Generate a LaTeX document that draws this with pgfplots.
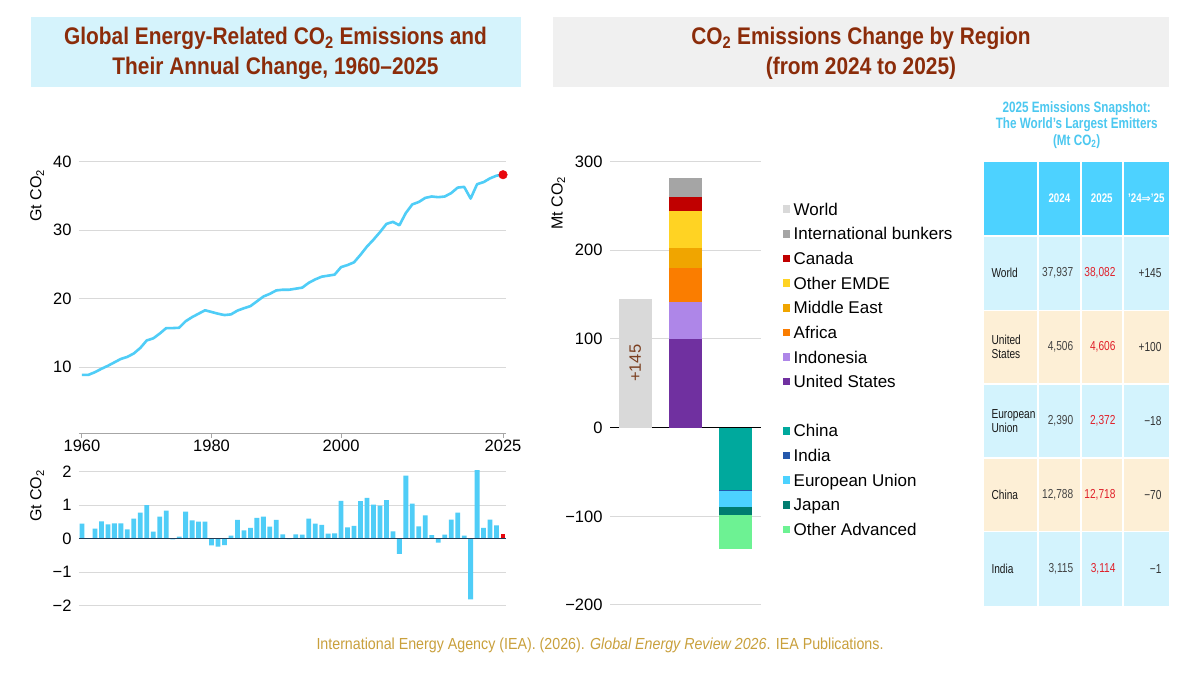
\documentclass[border=0pt]{standalone}
\usepackage{pgfplots}
\pgfplotsset{compat=1.18}
\usepackage{fontspec}
\setmainfont{Liberation Sans}
\newfontfamily\titlefam[FakeStretch=0.87]{Liberation Sans}
\newfontfamily\tablefam[FakeStretch=0.78]{Liberation Sans}
\newfontfamily\footfam[FakeStretch=0.89]{Liberation Sans}
\newfontfamily\dejavu{DejaVu Sans}

\definecolor{titlecyan}{HTML}{D5F3FC}
\definecolor{titlegray}{HTML}{F0F0F0}
\definecolor{titlered}{HTML}{8B2C0A}
\definecolor{linecyan}{HTML}{4FCDF7}
\definecolor{dotred}{HTML}{E8070E}
\definecolor{gridgray}{HTML}{D9D9D9}
\definecolor{axisgray}{HTML}{A6A6A6}
\definecolor{zeronavy}{HTML}{1F3B57}
\definecolor{cWorld}{HTML}{D9D9D9}
\definecolor{cBunk}{HTML}{A5A5A5}
\definecolor{cCan}{HTML}{C00000}
\definecolor{cEMDE}{HTML}{FFD323}
\definecolor{cME}{HTML}{F0A500}
\definecolor{cAfr}{HTML}{FA7D00}
\definecolor{cIndo}{HTML}{AE86E8}
\definecolor{cUS}{HTML}{7030A0}
\definecolor{cChina}{HTML}{00A99D}
\definecolor{cIndia}{HTML}{2458AC}
\definecolor{cEU}{HTML}{4CD2FF}
\definecolor{cJap}{HTML}{007D70}
\definecolor{cOA}{HTML}{6DF293}
\definecolor{valbrown}{HTML}{7B3F20}
\definecolor{thead}{HTML}{4DD2FF}
\definecolor{tcyan}{HTML}{D3F3FD}
\definecolor{tbeige}{HTML}{FDEFD6}
\definecolor{ttitle}{HTML}{4CC8F0}
\definecolor{tred}{HTML}{E0202A}
\definecolor{tgray}{HTML}{444444}
\definecolor{footgold}{HTML}{C9A03C}

\newcommand\tickfont{\fontsize{16.5}{19}\selectfont}
\newcommand\labfont{\fontsize{16}{19}\selectfont}
\newcommand\legfont{\fontsize{17}{20}\selectfont}
\newcommand\titlefont{\titlefam\bfseries\fontsize{24}{30}\selectfont}
\newcommand\ttitlefont{\tablefam\bfseries\fontsize{15}{16.7}\selectfont}
\newcommand\theadfont{\tablefam\bfseries\fontsize{12.5}{14}\selectfont}
\newcommand\cellfont{\tablefam\fontsize{13}{14.5}\selectfont}
\newcommand\footfont{\footfam\fontsize{16}{19}\selectfont}

\pgfplotsset{sqleg/.style={legend image code/.code={\fill[##1, draw=none] (0pt,-3.8pt) rectangle (7.4pt,3.8pt);}}}

\newcommand\trow[5]{%
  \node[anchor=west, align=left, font=\cellfont, text=black!90] at (988,#1) {#2};
  \node[anchor=east, font=\cellfont, text=tgray] at (1076.7,#1) {#3};
  \node[anchor=east, font=\cellfont, text=tred] at (1119,#1) {#4};
  \node[anchor=east, font=\cellfont, text=black!80] at (1165,#1) {#5};
}

\begin{document}
\begin{tikzpicture}
\useasboundingbox (0,0) rectangle (1200pt,675pt);
\fill[white] (0,0) rectangle (1200pt,675pt);

% ---------- titles, table, footer (pixel coordinates) ----------
\begin{scope}[x=1pt,y=-1pt,yshift=675pt]
\fill[titlecyan] (30.6,16.7) rectangle (520.5,87.3);
\fill[titlegray] (553,16.7) rectangle (1168.6,87.3);
\node[align=center, font=\titlefont, text=titlered] at (275.5,53.3)
  {Global Energy-Related CO\textsubscript{2} Emissions and\\Their Annual Change, 1960–2025};
\node[align=center, font=\titlefont, text=titlered] at (861,53.3)
  {CO\textsubscript{2} Emissions Change by Region\\(from 2024 to 2025)};

% table title
\node[align=center, font=\ttitlefont, text=ttitle] at (1076.7,125)
  {2025 Emissions Snapshot:\\The World’s Largest Emitters\\(Mt CO\textsubscript{2})};

% table cells
\foreach \ya/\yb/\col in {161.7/235.3/thead, 236.7/309.7/tcyan, 311.3/383.3/tbeige, 384.7/457.3/tcyan, 458.7/531/tbeige, 532.3/605.7/tcyan}{
  \foreach \xa/\xb in {984.3/1037.3, 1038.7/1080, 1081.5/1122, 1123.5/1169}{
    \fill[\col] (\xa,\ya) rectangle (\xb,\yb);
  }
}
\node[font=\theadfont, text=white] at (1059.4,198) {2024};
\node[font=\theadfont, text=white] at (1101.8,198) {2025};
\node[font=\theadfont, text=white] at (1146.3,198) {’24{\dejavu\fontsize{11}{13}\selectfont ⇒}’25};

\trow{272.7}{World}{37,937}{38,082}{+145}
\trow{346.7}{United\\States}{4,506}{4,606}{+100}
\trow{421}{European\\Union}{2,390}{2,372}{−18}
\trow{495}{China}{12,788}{12,718}{−70}
\trow{569}{India}{3,115}{3,114}{−1}

% footer
\node[font=\footfont, text=footgold] at (600,645)
  {International Energy Agency (IEA). (2026). \textit{Global Energy Review 2026}. IEA Publications.};
\end{scope}

% ---------- top line chart ----------
\begin{axis}[
  at={(78.76pt,241.7pt)}, anchor=south west, scale only axis,
  width=427.5pt, height=278.6pt,
  xmin=1959.5, xmax=2025.5, ymin=0.35, ymax=41,
  axis x line*=bottom, axis y line*=left,
  x axis line style={draw=axisgray, line width=1pt, -},
  y axis line style={draw=none},
  tick align=inside, major tick length=4.5pt,
  xtick style={draw=axisgray, line width=1pt, yshift=-4.5pt},
  ytick style={draw=none},
  xtick={1960,1980,2000,2025}, xticklabels={1960,1980,2000,2025},
  ytick={10,20,30,40}, yticklabels={10,20,30,40},
  ymajorgrids, grid style={draw=gridgray, line width=1pt},
  yticklabel style={anchor=east, inner sep=0pt, xshift=-7pt, font=\tickfont},
  xticklabel style={anchor=north, inner sep=0pt, yshift=-6pt, font=\tickfont},
  ylabel={Gt CO\textsubscript{2}},
  ylabel style={at={(axis description cs:-0.0972,0.8536)}, anchor=center, font=\labfont},
  clip=false,
]
\addplot[linecyan, line width=2.6pt, line join=round, mark=none] table {
year co2
1960 8.88
1961 8.88
1962 9.27
1963 9.76
1964 10.2
1965 10.7
1966 11.2
1967 11.5
1968 12.0
1969 12.8
1970 13.9
1971 14.2
1972 14.9
1973 15.7
1974 15.7
1975 15.75
1976 16.7
1977 17.3
1978 17.8
1979 18.3
1980 18.05
1981 17.8
1982 17.6
1983 17.7
1984 18.25
1985 18.6
1986 18.9
1987 19.6
1988 20.3
1989 20.7
1990 21.2
1991 21.3
1992 21.3
1993 21.45
1994 21.6
1995 22.3
1996 22.8
1997 23.2
1998 23.35
1999 23.5
2000 24.6
2001 24.9
2002 25.3
2003 26.4
2004 27.6
2005 28.6
2006 29.7
2007 30.9
2008 31.2
2009 30.7
2010 32.5
2011 33.75
2012 34.1
2013 34.7
2014 34.9
2015 34.8
2016 34.9
2017 35.4
2018 36.2
2019 36.3
2020 34.6
2021 36.7
2022 37.0
2023 37.55
2024 37.94
2025 38.08
};
\addplot[only marks, mark=*, mark size=4.3pt, mark options={fill=dotred, draw=dotred}] coordinates {(2025,38.08)};
\end{axis}

% ---------- bottom bar chart ----------
\begin{axis}[
  at={(78.76pt,59.25pt)}, anchor=south west, scale only axis,
  width=427.5pt, height=154.1pt,
  xmin=1959.5, xmax=2025.5, ymin=-2.3, ymax=2.3,
  axis line style={draw=none},
  xtick=\empty,
  tick align=inside,
  ytick={-2,-1,0,1,2}, yticklabels={−2,−1,0,1,2},
  ytick style={draw=none},
  ymajorgrids, grid style={draw=gridgray, line width=1pt},
  yticklabel style={anchor=east, inner sep=0pt, xshift=-7pt, font=\tickfont},
  ylabel={Gt CO\textsubscript{2}},
  ylabel style={at={(axis description cs:-0.0972,0.778)}, anchor=center, font=\labfont},
]
\addplot[ybar, bar width=4.8pt, bar shift=0pt, fill=linecyan, draw=none] table {
year d
1960 0.45
1961 0.02
1962 0.30
1963 0.52
1964 0.43
1965 0.46
1966 0.46
1967 0.28
1968 0.60
1969 0.78
1970 1.00
1971 0.21
1972 0.66
1973 0.84
1974 -0.02
1975 0.06
1976 0.81
1977 0.55
1978 0.51
1979 0.51
1980 -0.20
1981 -0.24
1982 -0.19
1983 0.09
1984 0.56
1985 0.25
1986 0.32
1987 0.62
1988 0.66
1989 0.36
1990 0.56
1991 0.13
1992 -0.01
1993 0.13
1994 0.12
1995 0.60
1996 0.45
1997 0.41
1998 0.15
1999 0.16
2000 1.13
2001 0.34
2002 0.38
2003 1.12
2004 1.22
2005 1.02
2006 0.99
2007 1.15
2008 0.22
2009 -0.45
2010 1.88
2011 1.05
2012 0.37
2013 0.70
2014 0.11
2015 -0.12
2016 0.12
2017 0.57
2018 0.78
2019 0.09
2020 -1.81
2021 2.05
2022 0.32
2023 0.57
2024 0.40
};
\addplot[ybar, bar width=4.8pt, bar shift=0pt, fill=dotred, draw=none] coordinates {(2025,0.145)};
\draw[zeronavy, line width=1.2pt] (axis cs:1959.5,0) -- (axis cs:2025.5,0);
\end{axis}

% ---------- middle stacked bar chart ----------
\begin{axis}[
  at={(610pt,56.7pt)}, anchor=south west, scale only axis,
  width=151pt, height=469.95pt,
  xmin=-0.5, xmax=2.5, ymin=-215, ymax=315,
  ybar stacked, bar width=33pt,
  axis line style={draw=none},
  xtick=\empty, tick align=inside,
  ytick={-200,-100,0,100,200,300}, yticklabels={−200,−100,0,100,200,300},
  ytick style={draw=none},
  ymajorgrids, grid style={draw=gridgray, line width=1pt},
  yticklabel style={anchor=east, inner sep=0pt, xshift=-7.3pt, font=\tickfont},
  ylabel={Mt CO\textsubscript{2}},
  ylabel style={at={(axis description cs:-0.342,0.8837)}, anchor=center, font=\labfont},
  legend style={at={(1.1437,0.8831)}, anchor=north west, draw=none, fill=none,
    inner sep=0pt, outer sep=0pt, row sep=12.63pt, column sep=3.6pt, font=\legfont,
    nodes={inner sep=0pt, text height=12pt, text depth=0pt}},
  legend cell align=left,
]
\addlegendimage{sqleg, fill=cWorld}\addlegendentry{World}
\addlegendimage{sqleg, fill=cBunk}\addlegendentry{International bunkers}
\addlegendimage{sqleg, fill=cCan}\addlegendentry{Canada}
\addlegendimage{sqleg, fill=cEMDE}\addlegendentry{Other EMDE}
\addlegendimage{sqleg, fill=cME}\addlegendentry{Middle East}
\addlegendimage{sqleg, fill=cAfr}\addlegendentry{Africa}
\addlegendimage{sqleg, fill=cIndo}\addlegendentry{Indonesia}
\addlegendimage{sqleg, fill=cUS}\addlegendentry{United States}
\addlegendimage{empty legend}\addlegendentry{}
\addlegendimage{sqleg, fill=cChina}\addlegendentry{China}
\addlegendimage{sqleg, fill=cIndia}\addlegendentry{India}
\addlegendimage{sqleg, fill=cEU}\addlegendentry{European Union}
\addlegendimage{sqleg, fill=cJap}\addlegendentry{Japan}
\addlegendimage{sqleg, fill=cOA}\addlegendentry{Other Advanced}

\addplot[fill=cWorld, draw=none] coordinates {(0,145) (1,0) (2,0)};
\addplot[fill=cUS, draw=none] coordinates {(0,0) (1,100) (2,0)};
\addplot[fill=cIndo, draw=none] coordinates {(0,0) (1,42) (2,0)};
\addplot[fill=cAfr, draw=none] coordinates {(0,0) (1,38) (2,0)};
\addplot[fill=cME, draw=none] coordinates {(0,0) (1,23) (2,0)};
\addplot[fill=cEMDE, draw=none] coordinates {(0,0) (1,41) (2,0)};
\addplot[fill=cCan, draw=none] coordinates {(0,0) (1,16) (2,0)};
\addplot[fill=cBunk, draw=none] coordinates {(0,0) (1,22) (2,0)};
\addplot[fill=cChina, draw=none] coordinates {(0,0) (1,0) (2,-70)};
\addplot[fill=cIndia, draw=none] coordinates {(0,0) (1,0) (2,-1)};
\addplot[fill=cEU, draw=none] coordinates {(0,0) (1,0) (2,-18)};
\addplot[fill=cJap, draw=none] coordinates {(0,0) (1,0) (2,-9)};
\addplot[fill=cOA, draw=none] coordinates {(0,0) (1,0) (2,-39)};
\draw[black, line width=1.3pt] (axis cs:-0.5,0) -- (axis cs:2.5,0);
\coordinate (worldlab) at (axis cs:0,72.5);
\end{axis}
\node[rotate=90, font=\tickfont, text=valbrown] at (worldlab) {+145};
\end{tikzpicture}
\end{document}
